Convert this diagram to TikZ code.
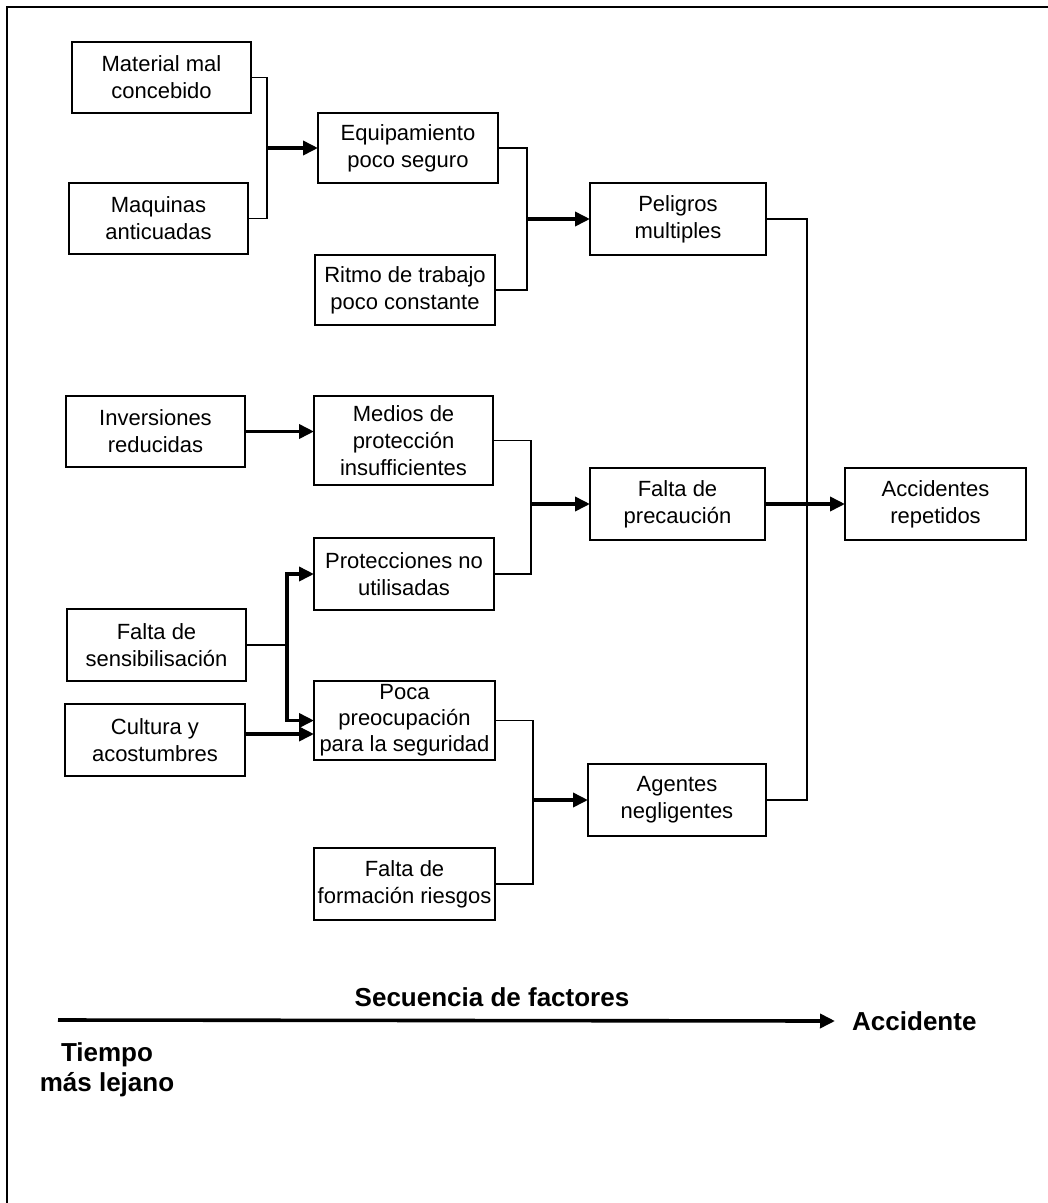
\documentclass[tikz,border=0pt]{standalone}
\usepackage{fontspec}
\setmainfont{Liberation Sans}
\usetikzlibrary{arrows.meta,calc}
\begin{document}
\begin{tikzpicture}[x=1pt,y=-1pt,
  box/.style={draw, line width=1.8pt, inner sep=0pt, outer sep=0pt, anchor=north west,
    align=center, font=\fontsize{22}{27}\selectfont},
  thinline/.style={line width=1.6pt},
  thickarrow/.style={line width=3.6pt, -{Triangle[length=15pt,width=14pt]}},
  boldtxt/.style={font=\fontsize{26}{30}\selectfont\bfseries, inner sep=0pt},
  frame/.style={line width=2.4pt}]
\useasboundingbox (0,0) rectangle (1048,1203);
\draw[frame] (1048,7) -- (7,7) -- (7,1203);

\node[box, minimum width=179pt, minimum height=71pt] (mat) at (72,42) {Material mal\\concebido};
\node[box, minimum width=179pt, minimum height=71pt] (maq) at (69,183) {Maquinas\\anticuadas};
\node[box, minimum width=180pt, minimum height=70pt] (equ) at (318,113) {Equipamiento\\poco seguro};
\node[box, minimum width=180pt, minimum height=70pt] (rit) at (315,255) {Ritmo de trabajo\\poco constante};
\node[box, minimum width=176pt, minimum height=72pt] (pel) at (590,183) {Peligros\\multiples};
\node[box, minimum width=179pt, minimum height=71pt] (inv) at (66,396) {Inversiones\\reducidas};
\node[box, minimum width=179pt, minimum height=89pt] (med) at (314,396) {Medios de\\protección\\insufficientes};
\node[box, minimum width=180pt, minimum height=72pt] (pro) at (314,538) {Protecciones no\\utilisadas};
\node[box, minimum width=175pt, minimum height=72pt] (fpr) at (590,468) {Falta de\\precaución};
\node[box, minimum width=181pt, minimum height=72pt] (acc) at (845,468) {Accidentes\\repetidos};
\node[box, minimum width=179pt, minimum height=72pt] (sen) at (67,609) {Falta de\\sensibilisación};
\node[box, minimum width=180pt, minimum height=72pt] (cul) at (65,704) {Cultura y\\acostumbres};
\node[box, minimum width=181pt, minimum height=79pt, font=\fontsize{22}{26}\selectfont] (poc) at (314,681) {Poca\\preocupación\\para la seguridad};
\node[box, minimum width=178pt, minimum height=72pt] (age) at (588,764) {Agentes\\negligentes};
\node[box, minimum width=181pt, minimum height=72pt] (for) at (314,848) {Falta de\\formación riesgos};

\coordinate (b1) at (267,0);
\coordinate (b2) at (527,0);
\coordinate (b3) at (531,0);
\coordinate (b4) at (287,0);
\coordinate (b5) at (533,0);
\coordinate (b6) at (807,0);

\draw[thinline] (mat.east) -- (mat.east -| b1) -- (maq.east -| b1) -- (maq.east);
\draw[thickarrow] (equ.west -| b1) -- (equ.west);

\draw[thinline] (equ.east) -- (equ.east -| b2) -- (rit.east -| b2) -- (rit.east);
\draw[thickarrow] (pel.west -| b2) -- (pel.west);

\draw[thickarrow] (inv.east) -- (med.west |- inv.east);

\draw[thinline] (med.east) -- (med.east -| b3) -- (pro.east -| b3) -- (pro.east);
\draw[thickarrow] (fpr.west -| b3) -- (fpr.west);

\draw[thinline] (sen.east) -- (sen.east -| b4);
\draw[thickarrow] (sen.east -| b4) -- (pro.west -| b4) -- (pro.west);
\draw[thickarrow] (sen.east -| b4) -- (poc.west -| b4) -- (poc.west);
\coordinate (culout) at ($(cul.east)+(0,-6)$);
\draw[thickarrow] (culout) -- (poc.west |- culout);

\draw[thinline] (poc.east) -- (poc.east -| b5) -- (for.east -| b5) -- (for.east);
\draw[thickarrow] (age.west -| b5) -- (age.west);

\draw[thinline] (pel.east) -- (pel.east -| b6) -- (age.east -| b6) -- (age.east);
\draw[thickarrow] (fpr.east) -- (acc.west);

\node[boldtxt] (seq) at (492,997) {Secuencia de factores};
\coordinate (tstart) at (58,1020);
\node[boldtxt, anchor=west, inner xsep=17pt] (acd) at (835,1021) {Accidente};
\draw[thickarrow] (tstart) -- (acd.west);
\node[boldtxt, align=center] (tiempo) at (107,1070) {Tiempo\\más lejano};
\end{tikzpicture}
\end{document}
